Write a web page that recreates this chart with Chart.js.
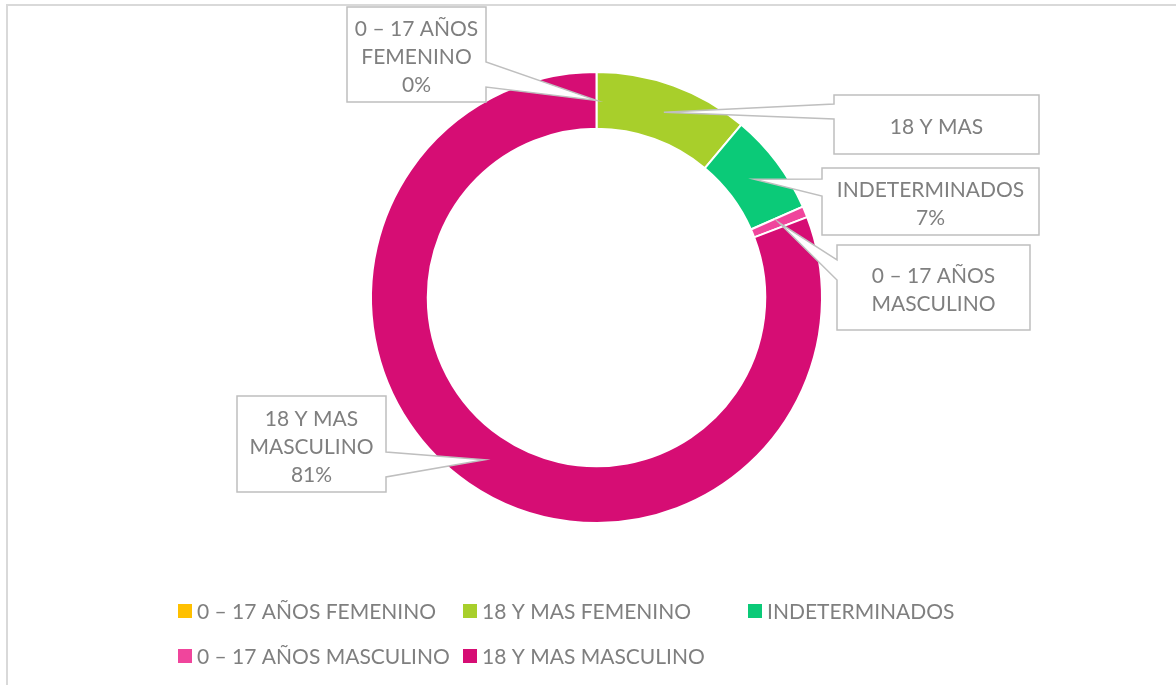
<!DOCTYPE html>
<html>
<head>
<meta charset="utf-8">
<script src="https://cdn.jsdelivr.net/npm/chart.js@4"></script>
<style>
  html, body { margin: 0; padding: 0; background: #fff; overflow: hidden; }
  #wrap { position: relative; width: 1176px; height: 685px; }
</style>
</head>
<body>
<div id="wrap"><canvas id="donut" width="1176" height="685"></canvas></div>
<script>
const categories = ["0 – 17 AÑOS FEMENINO", "18 Y MAS FEMENINO", "INDETERMINADOS", "0 – 17 AÑOS MASCULINO", "18 Y MAS MASCULINO"];
const shares = [0, 11.1, 7.3, 0.8, 80.8];
const sliceColors = ["#FFC000", "#A8CF2B", "#0BCA78", "#F0459C", "#D60D74"];
const calloutText = [
  ["0 – 17 AÑOS", "FEMENINO", "0%"],
  ["18 Y MAS"],
  ["INDETERMINADOS", "7%"],
  ["0 – 17 AÑOS", "MASCULINO"],
  ["18 Y MAS", "MASCULINO", "81%"]
];

const FONT = "Lato, 'Open Sans', sans-serif";
const TEXT_GREY = "#7f7f7f";

// callout boxes: where each label sits and which side the pointer leaves from
const calloutBoxes = [
  { x: 347, y: 7,   w: 139, h: 95, side: "right", wy: [62, 87] },
  { x: 834, y: 95,  w: 205, h: 59, side: "left",  wy: [104, 119] },
  { x: 822, y: 168, w: 217, h: 67, side: "left",  wy: [179, 196] },
  { x: 837, y: 245, w: 193, h: 85, side: "left",  wy: [260, 280] },
  { x: 237, y: 396, w: 149, h: 96, side: "right", wy: [452, 477] }
];

const frame = {
  id: "frame",
  beforeDraw(chart) {
    const ctx = chart.ctx;
    ctx.save();
    ctx.strokeStyle = "#d9d9d9";
    ctx.lineWidth = 2;
    ctx.strokeRect(7, 5, 1200, 700);
    ctx.restore();
  }
};

const callouts = {
  id: "callouts",
  afterDatasetsDraw(chart) {
    const ctx = chart.ctx;
    const arcs = chart.getDatasetMeta(0).data;
    ctx.save();
    calloutBoxes.forEach((b, i) => {
      const tip = arcs[i].tooltipPosition();
      ctx.beginPath();
      if (b.side === "right") {
        ctx.moveTo(b.x, b.y);
        ctx.lineTo(b.x + b.w, b.y);
        ctx.lineTo(b.x + b.w, b.wy[0]);
        ctx.lineTo(tip.x, tip.y);
        ctx.lineTo(b.x + b.w, b.wy[1]);
        ctx.lineTo(b.x + b.w, b.y + b.h);
        ctx.lineTo(b.x, b.y + b.h);
      } else {
        ctx.moveTo(b.x, b.y);
        ctx.lineTo(b.x + b.w, b.y);
        ctx.lineTo(b.x + b.w, b.y + b.h);
        ctx.lineTo(b.x, b.y + b.h);
        ctx.lineTo(b.x, b.wy[1]);
        ctx.lineTo(tip.x, tip.y);
        ctx.lineTo(b.x, b.wy[0]);
      }
      ctx.closePath();
      ctx.fillStyle = "#fff";
      ctx.fill();
      ctx.strokeStyle = "#bfbfbf";
      ctx.lineWidth = 1.5;
      ctx.stroke();

      const lines = calloutText[i];
      const lh = 28;
      ctx.fillStyle = TEXT_GREY;
      ctx.font = "21px " + FONT;
      ctx.textAlign = "center";
      ctx.textBaseline = "middle";
      const cy = b.y + b.h / 2 + 3 - (lines.length - 1) * lh / 2;
      lines.forEach((t, k) => ctx.fillText(t, b.x + b.w / 2, cy + k * lh));
    });
    ctx.restore();
  }
};

// legend laid out on a grid like the original
const legendGrid = {
  id: "legendGrid",
  afterDraw(chart) {
    const ctx = chart.ctx;
    const cols = [178, 463, 748];
    const rows = [604, 649];
    ctx.save();
    ctx.font = "21px " + FONT;
    ctx.textBaseline = "middle";
    ctx.textAlign = "left";
    chart.data.labels.forEach((label, i) => {
      const x = cols[i % 3];
      const y = rows[Math.floor(i / 3)];
      ctx.fillStyle = chart.data.datasets[0].backgroundColor[i];
      ctx.fillRect(x, y, 14, 14);
      ctx.fillStyle = TEXT_GREY;
      ctx.fillText(label, x + 19, y + 8);
    });
    ctx.restore();
  }
};

new Chart(document.getElementById("donut"), {
  type: "doughnut",
  data: {
    labels: categories,
    datasets: [{
      data: shares,
      backgroundColor: sliceColors,
      borderColor: "#ffffff",
      borderWidth: 2
    }]
  },
  options: {
    responsive: false,
    animation: false,
    radius: 225.5,
    cutout: 168,
    layout: { padding: { left: 146, right: 129, top: 72, bottom: 162 } },
    plugins: {
      legend: { display: false },
      tooltip: { enabled: false }
    },
    events: []
  },
  plugins: [frame, callouts, legendGrid]
});
</script>
</body>
</html>
